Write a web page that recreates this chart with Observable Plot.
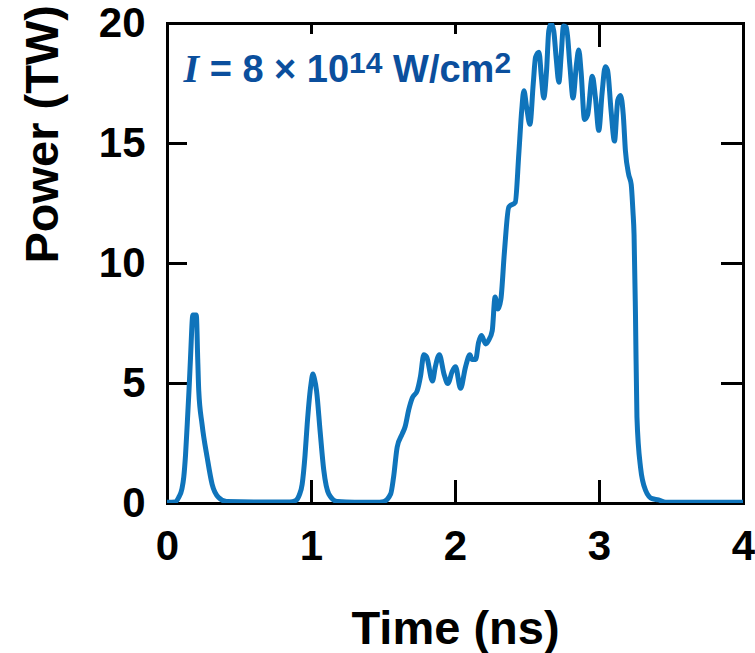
<!DOCTYPE html>
<html><head><meta charset="utf-8">
<script src="https://cdn.jsdelivr.net/npm/d3@7"></script>
<script src="https://cdn.jsdelivr.net/npm/@observablehq/plot@0.6"></script>
<style>html,body{margin:0;padding:0;background:#fff}svg{display:block}</style>
</head><body><div id="chart"></div>
<script>
const time = [0, 0.05, 0.078, 0.1, 0.113, 0.125, 0.137, 0.15, 0.16, 0.176, 0.2, 0.21, 0.217, 0.24, 0.276, 0.31, 0.355, 0.41, 0.6, 0.85,
  0.889, 0.915, 0.935, 0.955, 0.97, 0.997, 1.01, 1.02, 1.035, 1.06, 1.085, 1.12, 1.18, 1.3, 1.45,
  1.5, 1.55, 1.57, 1.595, 1.63, 1.65, 1.675, 1.70, 1.734, 1.757, 1.78, 1.80, 1.84, 1.86, 1.888, 1.92, 1.947, 1.977, 2.0,
  2.035, 2.07, 2.1, 2.115, 2.14, 2.16, 2.18, 2.21, 2.23, 2.255, 2.275, 2.295, 2.315, 2.34, 2.37, 2.415, 2.44, 2.46, 2.475,
  2.494, 2.517, 2.54, 2.556, 2.58, 2.596, 2.613, 2.632, 2.648, 2.664, 2.682, 2.7, 2.718, 2.734, 2.75, 2.77, 2.795, 2.816,
  2.84, 2.856, 2.872, 2.896, 2.918, 2.95, 2.972, 2.995, 3.018, 3.04, 3.056, 3.08, 3.104, 3.127, 3.146, 3.165, 3.18, 3.203,
  3.22, 3.232, 3.24, 3.25, 3.26, 3.285, 3.32, 3.366, 3.41, 3.46, 4.0];
const power = [0.05, 0.06, 0.26, 0.6, 1.1, 2.0, 3.3, 4.8, 6.1, 7.85, 7.85, 6.0, 4.7, 3.3, 1.9, 0.8, 0.25, 0.08, 0.06, 0.06,
  0.12, 0.35, 0.8, 2.0, 3.3, 5.0, 5.4, 5.2, 4.7, 3.0, 1.4, 0.4, 0.08, 0.05, 0.05,
  0.08, 0.4, 1.1, 2.35, 2.9, 3.2, 3.9, 4.4, 4.7, 5.3, 6.2, 6.1, 5.1, 5.7, 6.2, 5.4, 5.0, 5.5, 5.7,
  4.8, 5.7, 6.2, 6.0, 6.0, 6.7, 7.0, 6.65, 6.8, 7.2, 8.6, 8.1, 8.5, 10.5, 12.35, 12.55, 14.6, 16.4, 17.2,
  16.5, 15.8, 17.5, 18.6, 18.8, 17.8, 16.9, 18.0, 19.7, 20.0, 19.7, 18.5, 17.55, 18.7, 19.9, 19.85, 18.2, 16.9,
  18.3, 18.9, 18.0, 16.0, 16.2, 17.8, 16.9, 15.55, 17.1, 18.2, 18.05, 16.4, 15.1, 16.8, 17.0, 16.2, 14.7, 13.7,
  13.3, 12.2, 11.2, 7.8, 3.6, 1.5, 0.55, 0.2, 0.15, 0.05, 0.05];
const xTicks = [0, 1, 2, 3, 4];
const yTicks = [0, 5, 10, 15, 20];
const xLabel = "Time (ns)";
const yLabel = "Power (TW)";
const annotationParts = ["I", " = 8 × 10", "14", " W/cm", "2"];

const lineColor = "#0f74bb";
const annColor = "#0b4f9d";
const sans = "'Liberation Sans', Arial, Helvetica, sans-serif";

const data = time.map((t, i) => ({t, p: power[i]}));
const blank = () => "";
const annString = annotationParts.join("");

const chart = Plot.plot({
  width: 755, height: 653,
  marginLeft: 167, marginRight: 12, marginTop: 23, marginBottom: 150,
  style: {fontFamily: sans, fontWeight: "bold", background: "white", color: "black"},
  x: {domain: [0, 4]},
  y: {domain: [0, 20]},
  marks: [
    Plot.frame({stroke: "black", strokeWidth: 3}),
    Plot.axisX({ticks: xTicks, tickSize: -23, tickPadding: 50, fontSize: 42, strokeWidth: 3, label: null, tickFormat: d3.format("d")}),
    Plot.axisX({anchor: "top", ticks: [1, 2], tickSize: -10, tickPadding: 0, strokeWidth: 3, label: null, tickFormat: blank}),
    Plot.axisX({anchor: "top", ticks: [3], tickSize: -23, tickPadding: 0, strokeWidth: 3, label: null, tickFormat: blank}),
    Plot.axisY({ticks: yTicks, tickSize: -20, tickPadding: 42, fontSize: 42, strokeWidth: 3, label: null, tickFormat: d3.format("d")}),
    Plot.axisY({anchor: "right", ticks: yTicks, tickSize: -23, tickPadding: 0, strokeWidth: 3, label: null, tickFormat: blank}),
    Plot.line(data, {x: "t", y: "p", stroke: lineColor, strokeWidth: 5, curve: "monotone-x", clip: true}),
    Plot.text([xLabel], {frameAnchor: "bottom", dy: 125, fontSize: 47, fontWeight: "bold", lineAnchor: "middle", fill: "black"}),
    Plot.text([yLabel], {frameAnchor: "left", dx: -125, rotate: -90, fontSize: 47, fontWeight: "bold", lineAnchor: "middle", fill: "black"}),
    Plot.text([annString], {frameAnchor: "top-left", dx: 16, dy: 58, textAnchor: "start", lineAnchor: "bottom",
      fontSize: 38, fontWeight: "bold", fill: annColor})
  ]
});

document.getElementById("chart").appendChild(chart);

// rich text for annotation: italic symbol and superscripts
const annText = Array.from(chart.querySelectorAll("text")).find(el => el.textContent === annString);
if (annText) {
  const ns = "http://www.w3.org/2000/svg";
  while (annText.firstChild) annText.removeChild(annText.firstChild);
  const styles = [
    {font: "'Liberation Serif', 'Times New Roman', serif", italic: true, size: 40},
    {},
    {size: 30, dy: -9},
    {dy: 9},
    {size: 30, dy: -9}
  ];
  annotationParts.forEach((s, i) => {
    const ts = document.createElementNS(ns, "tspan");
    ts.textContent = s;
    const st = styles[i];
    if (st.font) ts.setAttribute("font-family", st.font);
    if (st.italic) ts.setAttribute("font-style", "italic");
    if (st.size) ts.setAttribute("font-size", st.size);
    if (st.dy) ts.setAttribute("dy", st.dy);
    annText.appendChild(ts);
  });
}
</script>
</body></html>
